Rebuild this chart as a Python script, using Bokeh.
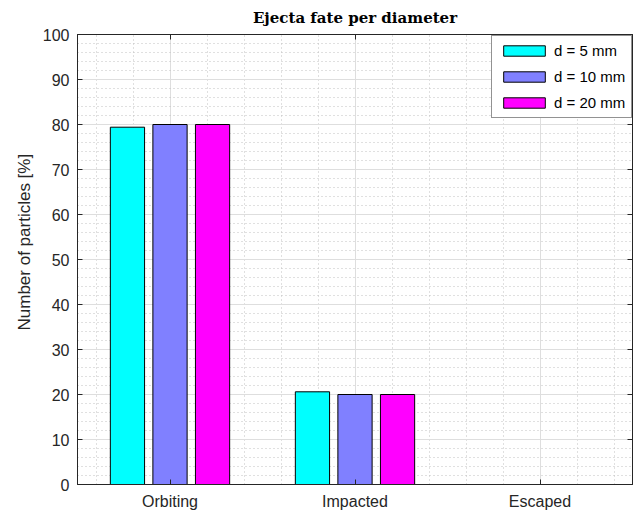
import numpy as np
from bokeh.plotting import figure
from bokeh.models import (ColumnDataSource, FixedTicker, LinearAxis, Range1d,
                          Legend, LegendItem, Title)
from bokeh.embed import file_html
from bokeh.resources import INLINE

# ---- data ----
categories = ["Orbiting", "Impacted", "Escaped"]
d5 = [79.4, 20.6, 0.0]
d10 = [80.0, 20.0, 0.0]
d20 = [80.0, 20.0, 0.0]
series_labels = ["d = 5 mm", "d = 10 mm", "d = 20 mm"]
series_colors = ["#00FFFF", "#8080FF", "#FF00FF"]
y_ticks = [0, 10, 20, 30, 40, 50, 60, 70, 80, 90, 100]
title_text = "Ejecta fate per diameter"

pos = np.arange(1, len(categories) + 1)
offsets = [-0.23, 0.0, 0.23]
bar_w = 0.185

axis_color = "#262626"
font = "Liberation Sans"
FW, FH = 555, 450

p = figure(frame_width=FW, frame_height=FH,
           x_range=Range1d(0.5, 3.5), y_range=Range1d(0, 100),
           output_backend="svg", toolbar_location=None,
           min_border_left=77, min_border_right=6,
           min_border_top=34, min_border_bottom=29)

p.title.text = title_text
p.title.text_font = "DejaVu Serif"
p.title.text_font_style = "bold"
p.title.text_font_size = "15px"
p.title.align = "center"
p.title.vertical_align = "top"
p.title.text_color = "#000000"
p.title.standoff = 12

x_minor = [round(v, 1) for v in np.arange(0.6, 3.5, 0.2) if abs(v - round(v)) > 1e-6]
y_minor = [v for v in range(0, 101, 2) if v % 10 != 0]
xt = FixedTicker(ticks=list(pos), minor_ticks=x_minor)
yt = FixedTicker(ticks=y_ticks, minor_ticks=y_minor)

renderers = []
for vals, off, col in zip([d5, d10, d20], offsets, series_colors):
    src = ColumnDataSource(dict(x=pos + off, top=vals))
    r = p.vbar(x="x", top="top", width=bar_w, bottom=0, source=src,
               fill_color=col, line_color="#000000", line_width=1)
    renderers.append(r)

# axes
xa = p.xaxis[0]
xa.ticker = xt
xa.major_label_overrides = {int(k): v for k, v in zip(pos, categories)}
ya = p.yaxis[0]
ya.ticker = yt
for a in (xa, ya):
    a.major_tick_in = 5
    a.major_tick_out = 0
    a.minor_tick_in = 0
    a.minor_tick_out = 0
    a.axis_line_color = axis_color
    a.major_tick_line_color = axis_color
    a.major_label_text_font = font
    a.major_label_text_font_size = "16px"
    a.major_label_text_color = axis_color
xa.major_label_standoff = 8
ya.major_label_standoff = 8

ylab = Title(text="Number of particles [%]", align="left", offset=154,
             text_font=font, text_font_size="17px", text_font_style="normal",
             text_color=axis_color, standoff=11)
p.add_layout(ylab, "left")

top_ax = LinearAxis(ticker=xt, major_label_text_font_size="1px",
                    major_label_text_color=None,
                    major_label_standoff=0, major_tick_in=5, major_tick_out=0,
                    minor_tick_in=0, minor_tick_out=0,
                    axis_line_color=axis_color, major_tick_line_color=axis_color)
right_ax = LinearAxis(ticker=yt, major_label_text_font_size="1px",
                      major_label_text_color=None,
                      major_label_standoff=0, major_tick_in=5, major_tick_out=0,
                      minor_tick_in=0, minor_tick_out=0,
                      axis_line_color=axis_color, major_tick_line_color=axis_color)
p.add_layout(top_ax, "above")
p.add_layout(right_ax, "right")

# grids
for g in (p.xgrid[0], p.ygrid[0]):
    g.grid_line_color = "#dedede"
    g.grid_line_width = 1
    g.minor_grid_line_color = "#c0c0c0"
    g.minor_grid_line_dash = "1 3"
    g.minor_grid_line_width = 1
p.xgrid[0].ticker = xt
p.ygrid[0].ticker = yt
p.outline_line_color = axis_color

legend = Legend(items=[LegendItem(label=l, renderers=[r]) for l, r in zip(series_labels, renderers)],
                location=(414, 366), glyph_width=52, glyph_height=13,
                label_height=13, spacing=9, padding=6, label_standoff=4,
                label_text_font=font, label_text_font_size="15px",
                label_text_color="#000000",
                border_line_color="#262626", border_line_width=1,
                background_fill_color="#ffffff", background_fill_alpha=1,
                margin=0)
p.add_layout(legend, "center")

open("out.html", "w").write(file_html(p, INLINE))
